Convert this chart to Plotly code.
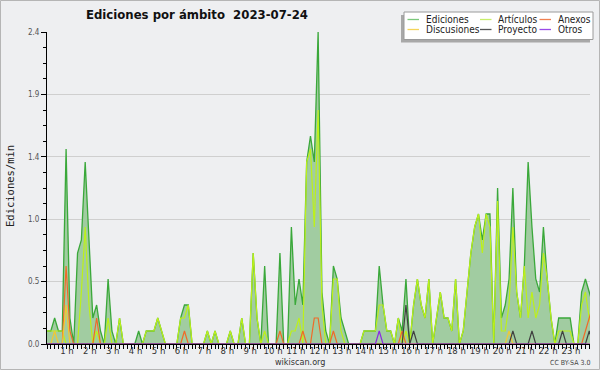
import plotly.graph_objects as go

# 10-minute slots over the day (minutes since 00:00)
minutes = list(range(0, 1440, 10))

ediciones = [
    0.1, 0.1, 0.2, 0.1, 0.1, 1.5,  0.2, 0.0, 0.7, 0.8, 1.4, 0.8,
    0.2, 0.3, 0.1, 0.0, 0.5, 0.1,  0.0, 0.2, 0.0, 0.0, 0.0, 0.0,
    0.1, 0.0, 0.1, 0.1, 0.1, 0.2,  0.1, 0.0, 0.0, 0.0, 0.0, 0.2,
    0.3, 0.3, 0.0, 0.0, 0.0, 0.0,  0.1, 0.0, 0.1, 0.0, 0.0, 0.0,
    0.1, 0.0, 0.0, 0.2, 0.0, 0.0,  0.7, 0.2, 0.0, 0.6, 0.0, 0.0,
    0.0, 0.7, 0.0, 0.0, 0.9, 0.3,  0.5, 0.3, 1.4, 1.6, 1.4, 2.4,
    0.4, 0.1, 0.0, 0.6, 0.5, 0.2,  0.1, 0.0, 0.0, 0.0, 0.0, 0.1,
    0.1, 0.1, 0.1, 0.6, 0.3, 0.1,  0.1, 0.0, 0.2, 0.1, 0.5, 0.0,
    0.3, 0.5, 0.3, 0.2, 0.5, 0.0,  0.2, 0.4, 0.2, 0.2, 0.1, 0.5,
    0.0, 0.1, 0.4, 0.7, 0.9, 1.0,  0.8, 1.0, 1.0, 0.0, 1.2, 0.2,
    0.3, 0.5, 1.2, 0.4, 0.2, 0.6,  1.4, 0.9, 0.5, 0.4, 0.9, 0.5,
    0.2, 0.0, 0.2, 0.2, 0.2, 0.2,  0.0, 0.0, 0.4, 0.5, 0.4, 0.3,
]

articulos = [
    0.1, 0.1, 0.1, 0.1, 0.1, 0.0,  0.0, 0.0, 0.0, 0.4, 0.9, 0.3,
    0.0, 0.1, 0.0, 0.0, 0.2, 0.0,  0.0, 0.2, 0.0, 0.0, 0.0, 0.0,
    0.0, 0.0, 0.1, 0.1, 0.1, 0.2,  0.1, 0.0, 0.0, 0.0, 0.0, 0.2,
    0.2, 0.3, 0.0, 0.0, 0.0, 0.0,  0.1, 0.0, 0.1, 0.0, 0.0, 0.0,
    0.1, 0.0, 0.0, 0.2, 0.0, 0.0,  0.7, 0.2, 0.0, 0.1, 0.0, 0.0,
    0.0, 0.0, 0.0, 0.0, 0.1, 0.1,  0.2, 0.0, 1.4, 1.5, 0.9, 1.8,
    0.3, 0.0, 0.0, 0.5, 0.5, 0.1,  0.0, 0.0, 0.0, 0.0, 0.0, 0.1,
    0.1, 0.1, 0.1, 0.3, 0.3, 0.1,  0.1, 0.0, 0.2, 0.0, 0.1, 0.0,
    0.3, 0.5, 0.3, 0.2, 0.5, 0.0,  0.2, 0.4, 0.2, 0.2, 0.1, 0.5,
    0.0, 0.1, 0.4, 0.7, 0.9, 1.0,  0.7, 1.0, 0.9, 0.0, 1.1, 0.1,
    0.1, 0.3, 0.9, 0.4, 0.2, 0.6,  0.2, 0.4, 0.2, 0.3, 0.7, 0.5,
    0.2, 0.0, 0.1, 0.1, 0.1, 0.1,  0.0, 0.0, 0.3, 0.4, 0.2, 0.1,
]

anexos = [
    0.0, 0.0, 0.0, 0.0, 0.0, 0.6,  0.1, 0.0, 0.0, 0.0, 0.0, 0.0,
    0.0, 0.2, 0.0, 0.0, 0.0, 0.0,  0.0, 0.0, 0.0, 0.0, 0.0, 0.0,
    0.0, 0.0, 0.0, 0.0, 0.0, 0.0,  0.0, 0.0, 0.0, 0.0, 0.0, 0.0,
    0.1, 0.0, 0.0, 0.0, 0.0, 0.0,  0.0, 0.0, 0.0, 0.0, 0.0, 0.0,
    0.0, 0.0, 0.0, 0.0, 0.0, 0.0,  0.0, 0.0, 0.0, 0.0, 0.0, 0.0,
    0.0, 0.1, 0.0, 0.0, 0.0, 0.0,  0.0, 0.1, 0.0, 0.0, 0.2, 0.2,
    0.0, 0.0, 0.0, 0.1, 0.0, 0.0,  0.0, 0.0, 0.0, 0.0, 0.0, 0.0,
    0.0, 0.0, 0.0, 0.0, 0.0, 0.0,  0.0, 0.0, 0.0, 0.1, 0.0, 0.0,
    0.0, 0.0, 0.0, 0.0, 0.0, 0.0,  0.0, 0.0, 0.0, 0.0, 0.0, 0.0,
    0.0, 0.0, 0.0, 0.0, 0.0, 0.0,  0.0, 0.0, 0.0, 0.0, 0.0, 0.0,
    0.0, 0.0, 0.0, 0.0, 0.0, 0.0,  0.0, 0.0, 0.0, 0.0, 0.0, 0.0,
    0.0, 0.0, 0.0, 0.0, 0.0, 0.0,  0.0, 0.0, 0.0, 0.1, 0.2, 0.3,
]

discusiones = [
    0.0, 0.0, 0.1, 0.0, 0.0, 0.3,  0.0, 0.0, 0.0, 0.0, 0.0, 0.0,
    0.0, 0.0, 0.0, 0.0, 0.0, 0.0,  0.0, 0.0, 0.0, 0.0, 0.0, 0.0,
    0.0, 0.0, 0.0, 0.0, 0.0, 0.0,  0.0, 0.0, 0.0, 0.0, 0.0, 0.0,
    0.0, 0.0, 0.0, 0.0, 0.0, 0.0,  0.0, 0.0, 0.0, 0.0, 0.0, 0.0,
    0.0, 0.0, 0.0, 0.0, 0.0, 0.0,  0.0, 0.0, 0.0, 0.0, 0.0, 0.0,
    0.0, 0.0, 0.0, 0.0, 0.0, 0.0,  0.0, 0.0, 0.0, 0.0, 0.0, 0.0,
    0.0, 0.0, 0.0, 0.0, 0.0, 0.0,  0.0, 0.0, 0.0, 0.0, 0.0, 0.0,
    0.0, 0.0, 0.0, 0.0, 0.0, 0.0,  0.0, 0.0, 0.0, 0.0, 0.0, 0.0,
    0.0, 0.0, 0.0, 0.0, 0.0, 0.0,  0.0, 0.0, 0.0, 0.0, 0.0, 0.0,
    0.0, 0.0, 0.0, 0.0, 0.0, 0.0,  0.0, 0.0, 0.0, 0.0, 0.0, 0.0,
    0.0, 0.1, 0.0, 0.0, 0.0, 0.0,  0.0, 0.0, 0.0, 0.0, 0.0, 0.0,
    0.0, 0.0, 0.0, 0.0, 0.0, 0.0,  0.0, 0.0, 0.0, 0.0, 0.0, 0.0,
]

proyecto = [
    0.0, 0.0, 0.0, 0.0, 0.0, 0.0,  0.0, 0.0, 0.0, 0.0, 0.0, 0.0,
    0.0, 0.0, 0.0, 0.0, 0.0, 0.0,  0.0, 0.0, 0.0, 0.0, 0.0, 0.0,
    0.0, 0.0, 0.0, 0.0, 0.0, 0.0,  0.0, 0.0, 0.0, 0.0, 0.0, 0.0,
    0.0, 0.0, 0.0, 0.0, 0.0, 0.0,  0.0, 0.0, 0.0, 0.0, 0.0, 0.0,
    0.0, 0.0, 0.0, 0.0, 0.0, 0.0,  0.0, 0.0, 0.0, 0.0, 0.0, 0.0,
    0.0, 0.0, 0.0, 0.0, 0.0, 0.0,  0.0, 0.0, 0.0, 0.0, 0.0, 0.0,
    0.0, 0.0, 0.0, 0.0, 0.0, 0.0,  0.0, 0.0, 0.0, 0.0, 0.0, 0.0,
    0.0, 0.0, 0.0, 0.0, 0.0, 0.0,  0.0, 0.0, 0.0, 0.0, 0.3, 0.0,
    0.1, 0.0, 0.0, 0.0, 0.0, 0.0,  0.0, 0.0, 0.0, 0.0, 0.0, 0.0,
    0.0, 0.0, 0.0, 0.0, 0.0, 0.0,  0.0, 0.0, 0.0, 0.0, 0.0, 0.0,
    0.0, 0.0, 0.1, 0.0, 0.0, 0.0,  0.0, 0.1, 0.0, 0.0, 0.0, 0.0,
    0.0, 0.0, 0.0, 0.1, 0.0, 0.0,  0.0, 0.0, 0.0, 0.0, 0.1, 0.0,
]

otros = [
    0.0, 0.0, 0.0, 0.0, 0.0, 0.0,  0.0, 0.0, 0.0, 0.0, 0.0, 0.0,
    0.0, 0.0, 0.0, 0.0, 0.0, 0.0,  0.0, 0.0, 0.0, 0.0, 0.0, 0.0,
    0.0, 0.0, 0.0, 0.0, 0.0, 0.0,  0.0, 0.0, 0.0, 0.0, 0.0, 0.0,
    0.0, 0.0, 0.0, 0.0, 0.0, 0.0,  0.0, 0.0, 0.0, 0.0, 0.0, 0.0,
    0.0, 0.0, 0.0, 0.0, 0.0, 0.0,  0.0, 0.0, 0.0, 0.0, 0.0, 0.0,
    0.0, 0.0, 0.0, 0.0, 0.0, 0.0,  0.0, 0.0, 0.0, 0.0, 0.0, 0.0,
    0.0, 0.0, 0.0, 0.0, 0.0, 0.0,  0.0, 0.0, 0.0, 0.0, 0.0, 0.0,
    0.0, 0.0, 0.0, 0.1, 0.0, 0.0,  0.0, 0.0, 0.0, 0.0, 0.0, 0.0,
    0.0, 0.0, 0.0, 0.0, 0.0, 0.0,  0.0, 0.0, 0.0, 0.0, 0.0, 0.0,
    0.0, 0.0, 0.0, 0.0, 0.0, 0.0,  0.0, 0.0, 0.0, 0.0, 0.0, 0.0,
    0.0, 0.0, 0.0, 0.0, 0.0, 0.0,  0.0, 0.0, 0.0, 0.0, 0.0, 0.0,
    0.0, 0.0, 0.0, 0.0, 0.0, 0.0,  0.0, 0.0, 0.0, 0.0, 0.0, 0.0,
]

hour_ticks = [60 * h for h in range(1, 24)]
hour_labels = [f"{h} h" for h in range(1, 24)]
y_ticks = [0.0, 0.48, 0.96, 1.44, 1.92, 2.4]
y_labels = ["0.0", "0.5", "1.0", "1.4", "1.9", "2.4"]

title_text = "Ediciones por ámbito\u00a0\u00a02023-07-24"
y_title = "Ediciones/min"

series_names = ["Ediciones", "Artículos", "Anexos", "Discusiones", "Proyecto", "Otros"]
series_colors = ["#3aa83a", "#bdf01a", "#f06a28", "#f2c832", "#404040", "#8a2be2"]
legend_colors = ["#7cc87c", "#c8ee6a", "#f08050", "#f4d45a", "#555555", "#9a4ae8"]

W, H = 600, 370
L, R, T, B = 47, 10, 32, 26
PW, PH = W - L - R, H - T - B

def px(x):
    return (x - L) / PW

def py(y):
    return (H - B - y) / PH

BG = "#eeeff1"
FONT = "DejaVu Sans Condensed, DejaVu Sans, Liberation Sans"

fig = go.Figure()
data = [ediciones, articulos, anexos, discusiones, proyecto, otros]
for k, (name, vals, col) in enumerate(zip(series_names, data, series_colors)):
    if k == 0:
        fig.add_trace(go.Scatter(x=minutes, y=vals, mode="lines", name=name,
                                 line=dict(color=col, width=1.3),
                                 fill="tozeroy", fillcolor="#a1cca1",
                                 hoverinfo="skip"))
    else:
        fig.add_trace(go.Scatter(x=minutes, y=vals, mode="lines", name=name,
                                 line=dict(color=col, width=1.2),
                                 hoverinfo="skip"))

shapes = []
annotations = []

# outer border
shapes.append(dict(type="rect", xref="paper", yref="paper",
                   x0=px(0.5), x1=px(W - 0.5), y0=py(H - 0.5), y1=py(0.5),
                   line=dict(color="#b5b5b5", width=1), fillcolor="rgba(0,0,0,0)",
                   layer="below"))

# legend box with shadow
lx0, lx1, ly0, ly1 = 404, 593, 12, 39.5
shapes.append(dict(type="rect", xref="paper", yref="paper",
                   x0=px(lx0 - 3), x1=px(lx1 - 3), y0=py(ly1 + 3), y1=py(ly0 + 3),
                   line=dict(width=0), fillcolor="#a8a8a8", layer="above"))
shapes.append(dict(type="rect", xref="paper", yref="paper",
                   x0=px(lx0), x1=px(lx1), y0=py(ly1), y1=py(ly0),
                   line=dict(color="#9a9a9a", width=1), fillcolor="#ffffff", layer="above"))
col_line_x = [407.5, 480, 539.5]
col_text_x = [424, 496, 555.5]
row_y = [19.5, 29.5]
for k, name in enumerate(series_names):
    c = k % 3
    r = k // 3
    shapes.append(dict(type="line", xref="paper", yref="paper",
                       x0=px(col_line_x[c]), x1=px(col_line_x[c] + 11.5),
                       y0=py(row_y[r]), y1=py(row_y[r]),
                       line=dict(color=legend_colors[k], width=1.3), layer="above"))
    annotations.append(dict(text=name, xref="paper", yref="paper",
                            x=px(col_text_x[c]), y=py(row_y[r]),
                            xanchor="left", yanchor="middle", showarrow=False,
                            font=dict(family=FONT, size=10, color="#222222")))

annotations.append(dict(text="<b>" + title_text + "</b>", xref="paper", yref="paper",
                        x=px(84), y=py(15), xanchor="left", yanchor="middle",
                        showarrow=False,
                        font=dict(family=FONT, size=13, color="#111111")))
annotations.append(dict(text="wikiscan.org", xref="paper", yref="paper",
                        x=px(300), y=py(361.5), xanchor="center", yanchor="middle",
                        showarrow=False, font=dict(family=FONT, size=9, color="#333333")))
annotations.append(dict(text="CC BY-SA 3.0", xref="paper", yref="paper",
                        x=px(592), y=py(362.5), xanchor="right", yanchor="middle",
                        showarrow=False, font=dict(family=FONT, size=7, color="#444444")))
annotations.append(dict(text=y_title, xref="paper", yref="paper",
                        x=px(10), y=py(186), xanchor="center", yanchor="middle",
                        textangle=-90, showarrow=False,
                        font=dict(family="DejaVu Sans Mono, DejaVu Sans", size=10.5, color="#222222")))

fig.update_layout(
    width=W, height=H, autosize=False,
    margin=dict(l=L, r=R, t=T, b=B, pad=0, autoexpand=False),
    paper_bgcolor=BG, plot_bgcolor=BG,
    showlegend=False,
    shapes=shapes, annotations=annotations,
    font=dict(family=FONT),
    xaxis=dict(range=[0, 1422], tickmode="array", tickvals=hour_ticks, ticktext=hour_labels,
               automargin=False,
               ticks="outside", ticklen=4, tickwidth=1, tickcolor="#000000",
               showline=True, linecolor="#000000", linewidth=1,
               showgrid=False, zeroline=False,
               minor=dict(tickmode="linear", tick0=0, dtick=10, ticks="outside",
                          ticklen=4, tickwidth=1, tickcolor="#000000", showgrid=False),
               tickfont=dict(family=FONT, size=9.5, color="#333333"),
               ticklabelshift=-3, ticklabelstandoff=-6),
    yaxis=dict(range=[0, 2.4], tickmode="array", tickvals=y_ticks, ticktext=y_labels,
               automargin=False,
               ticks="outside", ticklen=5, tickwidth=1, tickcolor="#000000",
               showline=True, linecolor="#000000", linewidth=1,
               showgrid=True, gridcolor="#cfcfcf", gridwidth=1, zeroline=False,
               minor=dict(tickmode="linear", tick0=0, dtick=0.12, ticks="outside",
                          ticklen=3, tickwidth=1, tickcolor="#000000", showgrid=False),
               tickfont=dict(family=FONT, size=8, color="#555555")),
)

fig.write_html(
    "out.html",
    config={"displayModeBar": False, "responsive": False},
    post_script="document.body.style.margin='0';document.body.style.padding='0';"
                "document.body.style.overflow='hidden';",
)
